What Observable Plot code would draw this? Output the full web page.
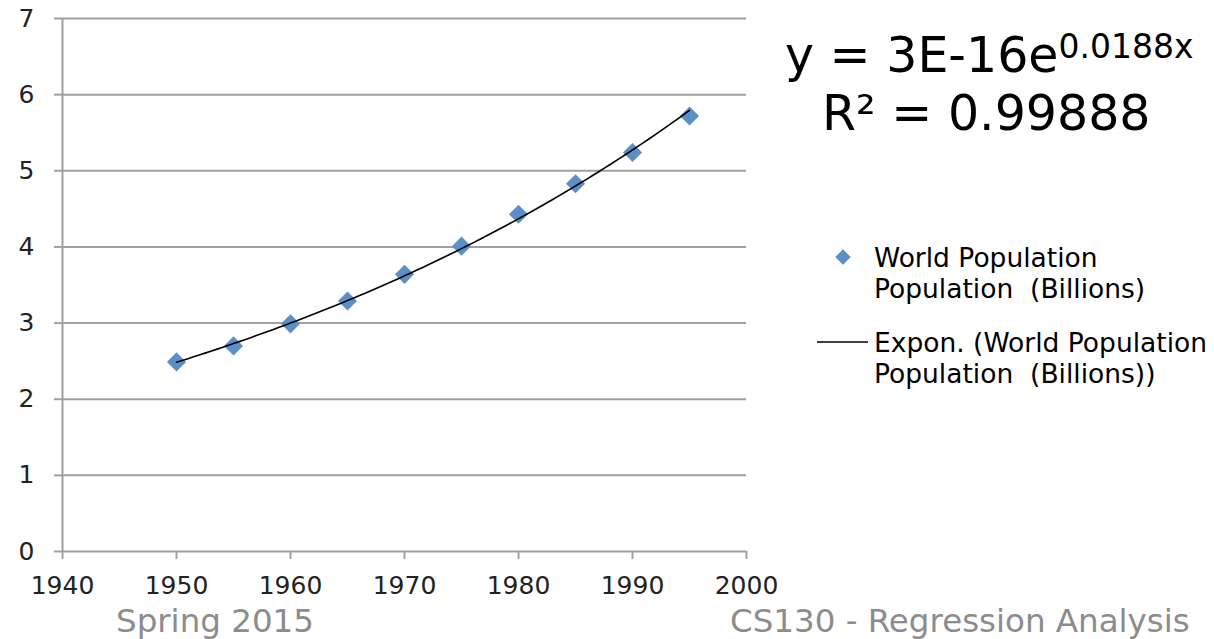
<!DOCTYPE html>
<html>
<head>
<meta charset="utf-8">
<script src="https://cdn.jsdelivr.net/npm/d3@7"></script>
<script src="https://cdn.jsdelivr.net/npm/@observablehq/plot@0.6"></script>
<style>
  html, body { margin: 0; padding: 0; background: #fff; overflow: hidden; }
  #wrap { position: relative; width: 1214px; height: 639px; font-family: "DejaVu Sans", Verdana, sans-serif; color: #000; }
  .abs { position: absolute; white-space: pre; line-height: 1; }
</style>
</head>
<body>
<div id="wrap"></div>
<script>
// ---- data ----
const years = [1950, 1955, 1960, 1965, 1970, 1975, 1980, 1985, 1990, 1995];
const population = [2.49, 2.70, 2.99, 3.29, 3.64, 4.01, 4.43, 4.83, 5.24, 5.72];
const xTicks = [1940, 1950, 1960, 1970, 1980, 1990, 2000];
const yTicks = [0, 1, 2, 3, 4, 5, 6, 7];
const seriesName = "World Population\nPopulation  (Billions)";
const trendName = "Expon. (World Population\nPopulation  (Billions))";
const equationText = "y = 3E-16e";
const equationExp = "0.0188x";
const r2Text = "R² = 0.99888";
const footerLeft = "Spring 2015";
const footerRight = "CS130 - Regression Analysis";
const titleText = "(Billions)";

const points = years.map((y, i) => ({year: y, pop: population[i]}));

// exponential trendline: least squares fit of ln(pop) on year
const n = years.length;
const mx = d3.mean(years);
const ly = population.map(Math.log);
const my = d3.mean(ly);
const b = d3.sum(years.map((x, i) => (x - mx) * (ly[i] - my))) / d3.sum(years.map(x => (x - mx) ** 2));
const a = my - b * mx;
const trend = d3.range(years[0], years[n - 1] + 0.01, 0.5).map(x => ({year: x, pop: Math.exp(a + b * x)}));

const blue = "#5b8fc8";
const grid = "#a0a0a0";

const chart = Plot.plot({
  width: 1214,
  height: 639,
  marginLeft: 62,
  marginTop: 18,
  marginRight: 468,
  marginBottom: 88,
  style: {fontFamily: "'DejaVu Sans', Verdana, sans-serif", fontSize: "25px", color: "#222", background: "transparent", overflow: "visible"},
  x: {domain: [1940, 2000]},
  y: {domain: [0, 7]},
  marks: [
    Plot.ruleY(yTicks, {stroke: grid, strokeWidth: 2}),
    Plot.ruleX([1940], {stroke: grid, strokeWidth: 2}),
    Plot.axisY({ticks: yTicks, tickSize: 8, tickPadding: 20, stroke: grid, strokeWidth: 2, strokeOpacity: 1, tickFormat: d => String(d), fill: "#222", label: null, fontSize: 25}),
    Plot.axisX({ticks: xTicks, tickSize: 8, tickPadding: 17, stroke: grid, strokeWidth: 2, strokeOpacity: 1, tickFormat: d => String(d), fill: "#222", label: null, fontSize: 25}),
    Plot.dot(points, {x: "year", y: "pop", symbol: "diamond2", r: 8.6, fill: blue, stroke: "none"}),
    Plot.line(trend, {x: "year", y: "pop", stroke: "#000", strokeWidth: 1.6, curve: "linear"})
  ]
});
chart.style.position = "absolute";
chart.style.left = "0px";
chart.style.top = "0px";
const wrap = document.getElementById("wrap");
wrap.appendChild(chart);

function addText(txt, left, top, size, opts = {}) {
  const d = document.createElement("div");
  d.className = "abs";
  d.textContent = txt;
  d.style.left = left + "px";
  d.style.top = top + "px";
  d.style.fontSize = size + "px";
  Object.assign(d.style, opts);
  wrap.appendChild(d);
  return d;
}

// title (cut off at the top edge, as in the source slide)
addText(titleText, 0, -44, 44, {fontWeight: "bold", width: "742px", textAlign: "right"});

// equation
const eq = document.createElement("div");
eq.className = "abs";
eq.style.left = "785px";
eq.style.top = "30px";
eq.style.fontSize = "49px";
eq.textContent = equationText;
const sup = document.createElement("span");
sup.textContent = equationExp;
sup.style.fontSize = "33px";
sup.style.verticalAlign = "14px";
eq.appendChild(sup);
wrap.appendChild(eq);
addText(r2Text, 822, 89, 49);

// legend
const leg = document.createElementNS("http://www.w3.org/2000/svg", "svg");
leg.setAttribute("width", "70");
leg.setAttribute("height", "120");
leg.style.position = "absolute";
leg.style.left = "805px";
leg.style.top = "240px";
const sym = d3.select(leg);
sym.append("path").attr("d", d3.symbol(d3.symbolDiamond2, 150)()).attr("transform", "translate(38,17)").attr("fill", blue);
sym.append("line").attr("x1", 12).attr("x2", 63).attr("y1", 102).attr("y2", 102).attr("stroke", "#000").attr("stroke-width", 1.5);
wrap.appendChild(leg);
addText(seriesName, 874, 242, 26.5, {lineHeight: "31px"});
addText(trendName, 874, 327, 26.5, {lineHeight: "31px"});

// footer
addText(footerLeft, 116, 605, 32.5, {color: "#8c8c8c"});
addText(footerRight, 730, 605, 32.5, {color: "#8c8c8c"});
</script>
</body>
</html>
